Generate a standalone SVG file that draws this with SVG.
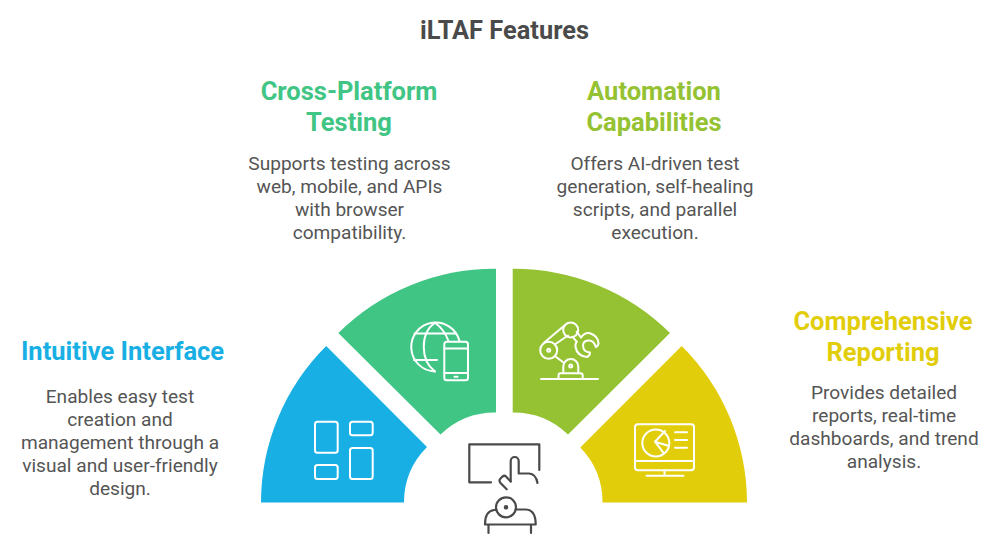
<svg xmlns="http://www.w3.org/2000/svg" width="1001" height="551" viewBox="0 0 1001 551">
<style>
text{font-family:Roboto,"Liberation Sans",sans-serif;text-anchor:middle}
.t{font-size:25.400px;font-weight:700;fill:#4a4a4a}
.h{font-size:25.500px;font-weight:700}
.b{font-size:19.100px;fill:#555}
.i{fill:none;stroke:#fff;stroke-width:2;stroke-linecap:round;stroke-linejoin:round}
.d{fill:none;stroke:#4a4a4a;stroke-width:2.200;stroke-linecap:round;stroke-linejoin:round}
</style>
<rect width="1001" height="551" fill="#fff"/>
<text class="t" x="504.500" y="39">iLTAF Features</text>
<g id="connectors"/>
<g id="intuitive">
<path fill="#18b0e4" d="M261 502.500A221.500 221.500 0 0 1 326.200 346L427 447A78.500 78.500 0 0 0 404 502.500Z"/>
<g class="i">
<rect x="315" y="421.700" width="22.700" height="31" rx="2.500"/>
<rect x="350" y="421.700" width="22.700" height="13.500" rx="2.500"/>
<rect x="315" y="465" width="22.700" height="14" rx="2.500"/>
<rect x="350" y="448" width="22.700" height="31" rx="2.500"/>
</g>
<text class="h" x="122.500" y="360" fill="#18b0e4">Intuitive Interface</text>
<text class="b" x="120" y="403">Enables easy test</text>
<text class="b" x="120" y="426">creation and</text>
<text class="b" x="120" y="449">management through a</text>
<text class="b" x="120" y="472">visual and user-friendly</text>
<text class="b" x="120" y="495">design.</text>
</g>
<g id="cross-platform">
<path fill="#40c584" d="M496 268.700V412.500A78.500 78.500 0 0 0 440.500 434.500L338.300 333A222 222 0 0 1 496 268.700Z"/>
<g class="i">
<path d="M435 371.500A24.500 24.500 0 1 1 459.500 341"/>
<path d="M435 322.700C420 333 420 360 435 371.500"/>
<path d="M435 322.700C441 327 446 334 448.500 341"/>
<path d="M414.500 333.500H456M414 360H437"/>
<rect x="444.300" y="341.700" width="23.700" height="38.600" rx="2.500"/>
<path d="M444.300 348.500H468M444.300 373H468M454.500 376.800H457.500"/>
</g>
<text class="h" x="349" y="100" fill="#40c584">Cross-Platform</text>
<text class="h" x="349" y="131" fill="#40c584">Testing</text>
<text class="b" x="349.500" y="170">Supports testing across</text>
<text class="b" x="349.500" y="193">web, mobile, and APIs</text>
<text class="b" x="349.500" y="216">with browser</text>
<text class="b" x="349.500" y="239">compatibility.</text>
</g>
<g id="automation">
<path fill="#95c232" d="M512.700 268.700V412.500A78.500 78.500 0 0 1 568 434.500L670 333A222 222 0 0 0 512.700 268.700Z"/>
<g class="i">
<path d="M541 379H598"/>
<path d="M558.500 379V375.500Q558.500 373.300 560.500 373.300H580.500Q582.700 373.300 582.700 375.500V379"/>
<path d="M563.300 373.300V366.500A7.500 7.500 0 0 1 578.300 366.500V373.300"/>
<circle cx="570.700" cy="366" r="1.500"/>
<circle cx="548.700" cy="350.300" r="8.500"/>
<circle cx="548.700" cy="350.300" r="1.500"/>
<circle cx="570.700" cy="330" r="7.500"/>
<path d="M544 342.800L565 325M554.800 344.500L568 335.500M554.800 356L563.500 362.500"/>
<path d="M576.700 331.700L581 337.500M572.300 336.700L576.700 341.700"/>
<path d="M581 337.500Q585 332 590 333.300Q598 336 598.500 343Q598.500 346 595.700 347Q594 340.500 589 340.500Q583.500 340.500 583 345Q583 352 590 352.500Q590 355.500 587 357Q577 356 575.500 347Q575 344 576.700 341.700"/>
</g>
<text class="h" x="654" y="100" fill="#95c232">Automation</text>
<text class="h" x="654" y="131" fill="#95c232">Capabilities</text>
<text class="b" x="655" y="170">Offers AI-driven test</text>
<text class="b" x="655" y="193">generation, self-healing</text>
<text class="b" x="655" y="216">scripts, and parallel</text>
<text class="b" x="655" y="239">execution.</text>
</g>
<g id="reporting">
<path fill="#e2cd0a" d="M747 502.500A221.500 221.500 0 0 0 681.700 346L580.300 447.500A78.500 78.500 0 0 1 602.500 502.500Z"/>
<g class="i">
<rect x="635" y="424.300" width="59" height="46" rx="3"/>
<path d="M635 461H694M664.500 470.300V475.700M646.500 475.700H683.500"/>
<circle cx="655.800" cy="443" r="13.500"/>
<path d="M655 441.700L665 431M655 441.700L669 446M655 441.700L663.300 452.700"/>
<path d="M675 432.300H687M675 440H687M675 447.700H687"/>
</g>
<text class="h" x="883" y="330" fill="#e2cd0a">Comprehensive</text>
<text class="h" x="883" y="361" fill="#e2cd0a">Reporting</text>
<text class="b" x="884" y="399">Provides detailed</text>
<text class="b" x="884" y="422">reports, real-time</text>
<text class="b" x="884" y="445">dashboards, and trend</text>
<text class="b" x="884" y="468">analysis.</text>
</g>
<g id="center" class="d">
<path d="M491 482.300H469.300V444.300H539.300V470"/>
<path d="M510.700 481.500V461A4 4 0 0 1 518.700 461V473.500H529Q536 474 537.500 483"/>
<path d="M510.700 481.500L506 476.500Q504.500 475 502.500 476.500L500.500 478.500Q498.500 480.500 500.500 483L506.700 489.300"/>
<circle cx="506" cy="507.300" r="10"/>
<circle cx="506" cy="507.300" r="1.200"/>
<path d="M496.500 510H494Q485 511 485 524.500H535.700Q535.700 510 526 509.500H515.500"/>
<path d="M488.500 525V533M531 525V533"/>
</g>
</svg>
